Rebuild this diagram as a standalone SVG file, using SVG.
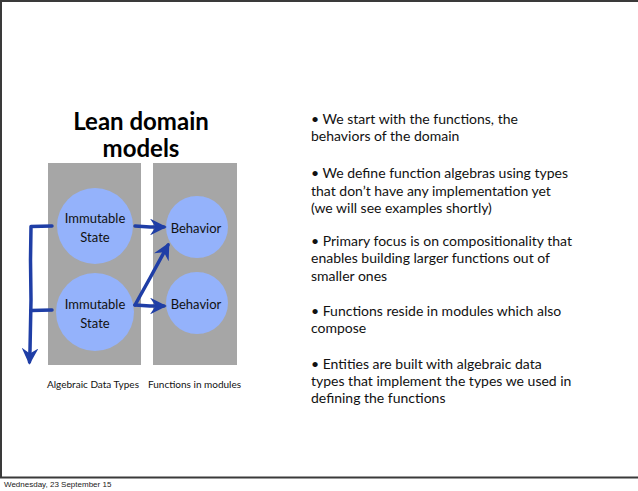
<svg xmlns="http://www.w3.org/2000/svg" width="638" height="491" viewBox="0 0 638 491">
<defs>
<style>
.frame{stroke:#3a3a3a;stroke-width:2;fill:none}
.panel{fill:#a6a6a6}
.circ{fill:#94b2fb}
.lbl{font-family:"Lato","Open Sans",sans-serif;font-size:13px;fill:#111;text-anchor:middle}
.title{font-family:"Lato","Open Sans",sans-serif;font-size:24px;font-weight:bold;fill:#000;text-anchor:middle}
.cap{font-family:"Lato","Open Sans",sans-serif;font-size:10px;fill:#111}
.body{font-family:"Lato","Open Sans",sans-serif;font-size:14px;fill:#111}
.foot{font-family:"Liberation Sans",Arial,sans-serif;font-size:8px;fill:#222}
.arr{stroke:#1f3ea6;stroke-width:3.5;fill:none;stroke-linecap:round;stroke-linejoin:round}
</style>
<marker id="ah" viewBox="0 0 12 12" refX="10" refY="6" markerWidth="4.8" markerHeight="4.8" orient="auto" markerUnits="strokeWidth">
<path d="M0,0 L12,6 L0,12 L4,6 Z" fill="#1f3ea6"/>
</marker>
</defs>
<rect width="638" height="491" fill="#fff"/>
<path class="frame" d="M1,478 L1,1 L638,1"/>
<path class="frame" d="M0,477.5 L638,477.5"/>

<g id="title">
<text class="title" x="141" y="130">Lean domain</text>
<text class="title" x="141" y="157">models</text>
</g>

<g id="panel-adt"><rect class="panel" x="48" y="163" width="93" height="202"/></g>
<g id="panel-fn"><rect class="panel" x="153" y="163" width="84" height="202"/></g>

<g id="state1"><circle class="circ" cx="95" cy="226" r="38"/>
<text class="lbl" x="95" y="223">Immutable</text><text class="lbl" x="95" y="242">State</text></g>
<g id="state2"><circle class="circ" cx="95" cy="312" r="39"/>
<text class="lbl" x="95" y="309">Immutable</text><text class="lbl" x="95" y="328">State</text></g>
<g id="behavior1"><circle class="circ" cx="197" cy="227" r="31"/>
<text class="lbl" x="196" y="233">Behavior</text></g>
<g id="behavior2"><circle class="circ" cx="197" cy="303" r="31"/>
<text class="lbl" x="196" y="309">Behavior</text></g>

<g id="connectors">
<path class="arr" d="M52,226 L31,226.5 L30.5,260 L31,300 L30,350 L29.5,362" marker-end="url(#ah)"/>
<path class="arr" d="M52,310 L31,310.5"/>
<path class="arr" d="M135,226 L150,227 L164,227" marker-end="url(#ah)"/>
<path class="arr" d="M135,305 L150,306 L164,306" marker-end="url(#ah)"/>
<path class="arr" d="M135,305 L150,278 L168,245" marker-end="url(#ah)"/>
</g>

<g id="captions">
<text class="cap" x="47" y="388">Algebraic Data Types</text>
<text class="cap" x="148" y="388">Functions in modules</text>
</g>

<g id="bullets">
<text class="body" x="311" y="124">• We start with the functions, the</text>
<text class="body" x="311" y="141">behaviors of the domain</text>
<text class="body" x="311" y="178">• We define function algebras using types</text>
<text class="body" x="311" y="196">that don’t have any implementation yet</text>
<text class="body" x="311" y="213">(we will see examples shortly)</text>
<text class="body" x="311" y="246">• Primary focus is on compositionality that</text>
<text class="body" x="311" y="263">enables building larger functions out of</text>
<text class="body" x="311" y="281">smaller ones</text>
<text class="body" x="311" y="316">• Functions reside in modules which also</text>
<text class="body" x="311" y="333">compose</text>
<text class="body" x="311" y="369">• Entities are built with algebraic data</text>
<text class="body" x="311" y="386">types that implement the types we used in</text>
<text class="body" x="311" y="403">defining the functions</text>
</g>

<text class="foot" x="4" y="487">Wednesday, 23 September 15</text>
</svg>
